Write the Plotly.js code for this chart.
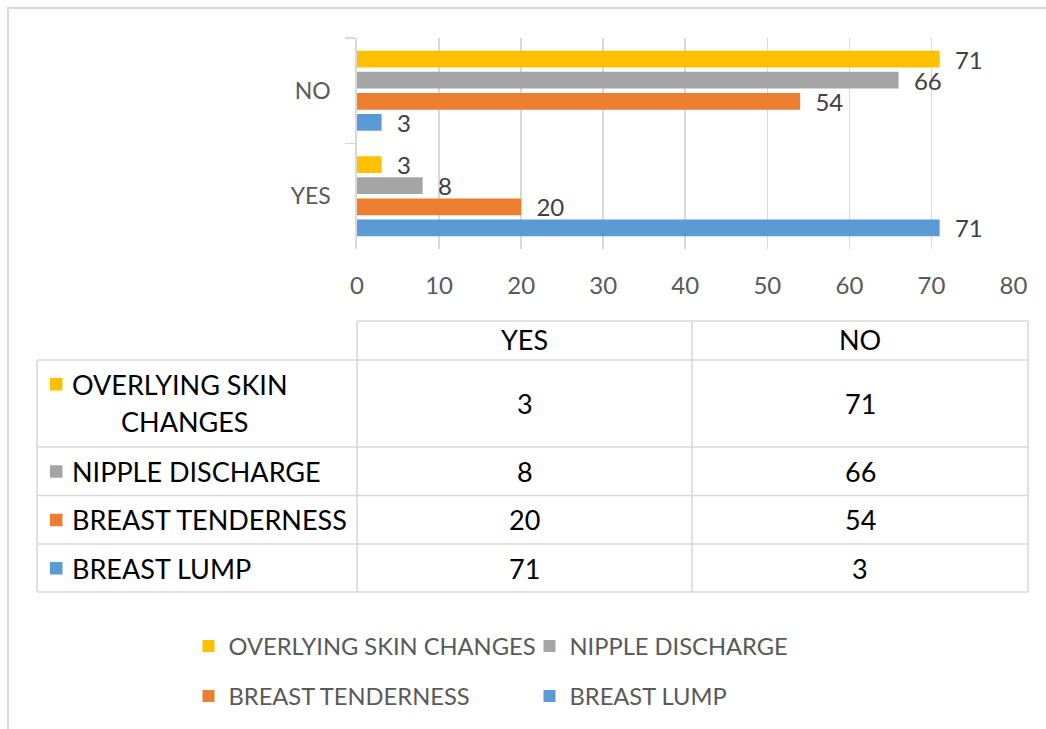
<!DOCTYPE html>
<html><head><meta charset="utf-8">
<script src="https://cdn.plot.ly/plotly-3.0.1.min.js"></script>
<style>html,body{margin:0;padding:0;background:#fff}#chart{width:1046px;height:729px}</style>
</head><body><div id="chart"></div>
<script>
// ---- data ----
const categories = ['YES', 'NO'];
const seriesNames = ['OVERLYING SKIN CHANGES', 'NIPPLE DISCHARGE', 'BREAST TENDERNESS', 'BREAST LUMP'];
const overlyingSkinChanges = [3, 71];
const nippleDischarge = [8, 66];
const breastTenderness = [20, 54];
const breastLump = [71, 3];
const xTickValues = [0, 10, 20, 30, 40, 50, 60, 70, 80];
const seriesValues = [overlyingSkinChanges, nippleDischarge, breastTenderness, breastLump];
const colors = ['#FFC000', '#A5A5A5', '#ED7D31', '#5B9BD5'];

// ---- helpers (pixel -> paper) ----
const W = 1046, H = 729;
const X = px => px / W, Y = py => 1 - py / H;
const FONT = 'Lato, Carlito, Calibri, sans-serif';
const LINE = '#d9d9d9';

const legendKeys = ['legend', 'legend2', 'legend3', 'legend4'];

// bars: first trace sits at the bottom of each group
const traces = [];
for (let i = seriesNames.length - 1; i >= 0; i--) {
  traces.push({
    type: 'bar', orientation: 'h',
    name: seriesNames[i],
    y: categories, x: seriesValues[i],
    marker: {color: colors[i], line: {width: 0}},
    text: seriesValues[i].map(String),
    texttemplate: '\u00a0\u00a0%{text}',
    textposition: 'outside', cliponaxis: false, constraintext: 'none',
    textfont: {family: FONT, size: 24, color: '#404040'},
    hoverinfo: 'x+name',
    legend: legendKeys[i]
  });
}

// ---- table (shapes + annotations) ----
const colX = [37, 357, 692, 1028];
const headerTop = 321, rowEdges = [360, 447, 495.5, 544, 592];
const shapes = [];
const ln = (x0, y0, x1, y1) => shapes.push({type: 'line', xref: 'paper', yref: 'paper',
  x0: X(x0), y0: Y(y0), x1: X(x1), y1: Y(y1), line: {color: LINE, width: 1.6}});
// header row
ln(colX[1], headerTop, colX[3], headerTop);
// horizontal lines
rowEdges.forEach(y => ln(colX[0], y, colX[3], y));
// vertical lines
ln(colX[0], rowEdges[0], colX[0], rowEdges[4]);
ln(colX[1], headerTop, colX[1], rowEdges[4]);
ln(colX[2], headerTop, colX[2], rowEdges[4]);
ln(colX[3], headerTop, colX[3], rowEdges[4]);
// outer chart border
shapes.push({type: 'rect', xref: 'paper', yref: 'paper', x0: X(8), y0: Y(8), x1: X(1080), y1: Y(760),
  line: {color: LINE, width: 2}, fillcolor: 'rgba(0,0,0,0)'});

const annotations = [];
const tFont = {family: FONT, size: 27, color: '#000000'};
// header
categories.forEach((c, j) => annotations.push({xref: 'paper', yref: 'paper', showarrow: false,
  x: X((colX[j + 1] + colX[j + 2]) / 2), y: Y(340), text: c, font: tFont, xanchor: 'center', yanchor: 'middle'}));
// rows
seriesNames.forEach((name, i) => {
  const cy = (rowEdges[i] + rowEdges[i + 1]) / 2;
  let labelY = cy;
  if (i === 0) {
    const words = name.split(' ');
    annotations.push({xref: 'paper', yref: 'paper', showarrow: false, x: X(70), y: Y(384),
      text: words.slice(0, 2).join(' '), font: tFont, xanchor: 'left', yanchor: 'middle'});
    annotations.push({xref: 'paper', yref: 'paper', showarrow: false, x: X(185), y: Y(422),
      text: words.slice(2).join(' '), font: tFont, xanchor: 'center', yanchor: 'middle'});
    labelY = 384;
  } else {
    annotations.push({xref: 'paper', yref: 'paper', showarrow: false, x: X(70), y: Y(cy),
      text: name, font: tFont, xanchor: 'left', yanchor: 'middle'});
  }
  shapes.push({type: 'rect', xref: 'paper', yref: 'paper', x0: X(50), x1: X(62.5),
    y0: Y(labelY - 6), y1: Y(labelY + 6.5), line: {width: 0}, fillcolor: colors[i]});
  categories.forEach((c, j) => annotations.push({xref: 'paper', yref: 'paper', showarrow: false,
    x: X((colX[j + 1] + colX[j + 2]) / 2), y: Y(cy), text: String(seriesValues[i][j]),
    font: tFont, xanchor: 'center', yanchor: 'middle'}));
});

// ---- legends ----
const legendPos = [[188.5, 646], [529.5, 646], [188.5, 696], [529.5, 696]];
const legendFont = {family: FONT, size: 23.7, color: '#595959'};

const layout = {
  width: W, height: H,
  margin: {l: 0, r: 0, t: 0, b: 0},
  paper_bgcolor: '#ffffff', plot_bgcolor: '#ffffff',
  barmode: 'group', bargap: 0.2, bargroupgap: 0.21,
  font: {family: FONT, color: '#595959'},
  xaxis: {
    domain: [X(357), X(1013.5)], range: [0, 80],
    tickvals: xTickValues, ticktext: xTickValues.map(String),
    showgrid: true, gridcolor: LINE, gridwidth: 1.6,
    zeroline: false, showline: false, ticks: '',
    ticklabelstandoff: 20,
    tickfont: {family: FONT, size: 24, color: '#595959'},
    fixedrange: true
  },
  yaxis: {
    domain: [Y(249), Y(38)],
    type: 'category', categoryorder: 'array', categoryarray: categories,
    showgrid: false, zeroline: false,
    showline: true, linecolor: LINE, linewidth: 1.6,
    ticks: 'outside', tickson: 'boundaries', ticklen: 10, tickcolor: LINE, tickwidth: 1.6,
    ticklabelstandoff: 20,
    tickfont: {family: FONT, size: 23, color: '#595959'},
    fixedrange: true
  },
  shapes: shapes,
  annotations: annotations,
  showlegend: true
};
legendKeys.forEach((k, i) => {
  layout[k] = {x: X(legendPos[i][0]), y: Y(legendPos[i][1]), xanchor: 'left', yanchor: 'middle',
    orientation: 'h', font: legendFont, bgcolor: 'rgba(0,0,0,0)', borderwidth: 0};
});

Plotly.newPlot('chart', traces, layout, {displayModeBar: false, staticPlot: true});
</script>
</body></html>
